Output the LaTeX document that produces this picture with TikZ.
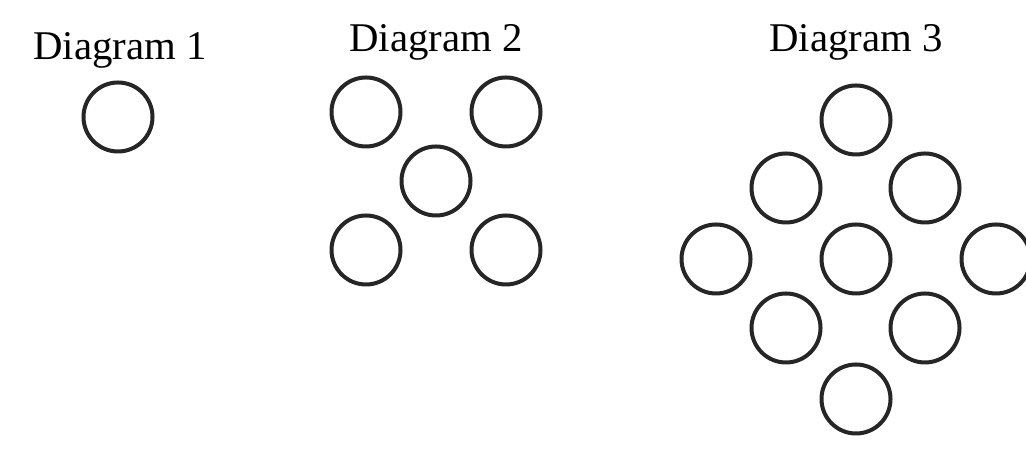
\documentclass[tikz,border=0pt]{standalone}
\usepackage{fontspec}
\setmainfont{Liberation Serif}
\begin{document}
\begin{tikzpicture}[x=0.25pt,y=-0.25pt,
  ring/.style={circle, fill=none, draw=black!85, line width=1pt, minimum size=17.25pt, inner sep=0pt},
  title/.style={font=\fontsize{10.2}{12}\selectfont, inner sep=0pt}]
\useasboundingbox (0,0) rectangle (1026,466);
% Diagram 1
\node [title] (t1) at (120,50) {Diagram 1};
\node [ring] (a1) at (118,117) {};
% Diagram 2
\node [title] (t2) at (436,42) {Diagram 2};
\node [ring] (b1) at (366,112) {};
\node [ring] (b2) at (506,112) {};
\node [ring] (b3) at (436,181) {};
\node [ring] (b4) at (366,250) {};
\node [ring] (b5) at (506,250) {};
% Diagram 3
\node [title] (t3) at (856,42) {Diagram 3};
\node [ring] (c1) at (856,120) {};
\node [ring] (c2) at (786,188) {};
\node [ring] (c3) at (925,188) {};
\node [ring] (c4) at (716,259) {};
\node [ring] (c5) at (856,259) {};
\node [ring] (c6) at (996,259) {};
\node [ring] (c7) at (786,328) {};
\node [ring] (c8) at (925,328) {};
\node [ring] (c9) at (856,399) {};
\end{tikzpicture}
\end{document}
